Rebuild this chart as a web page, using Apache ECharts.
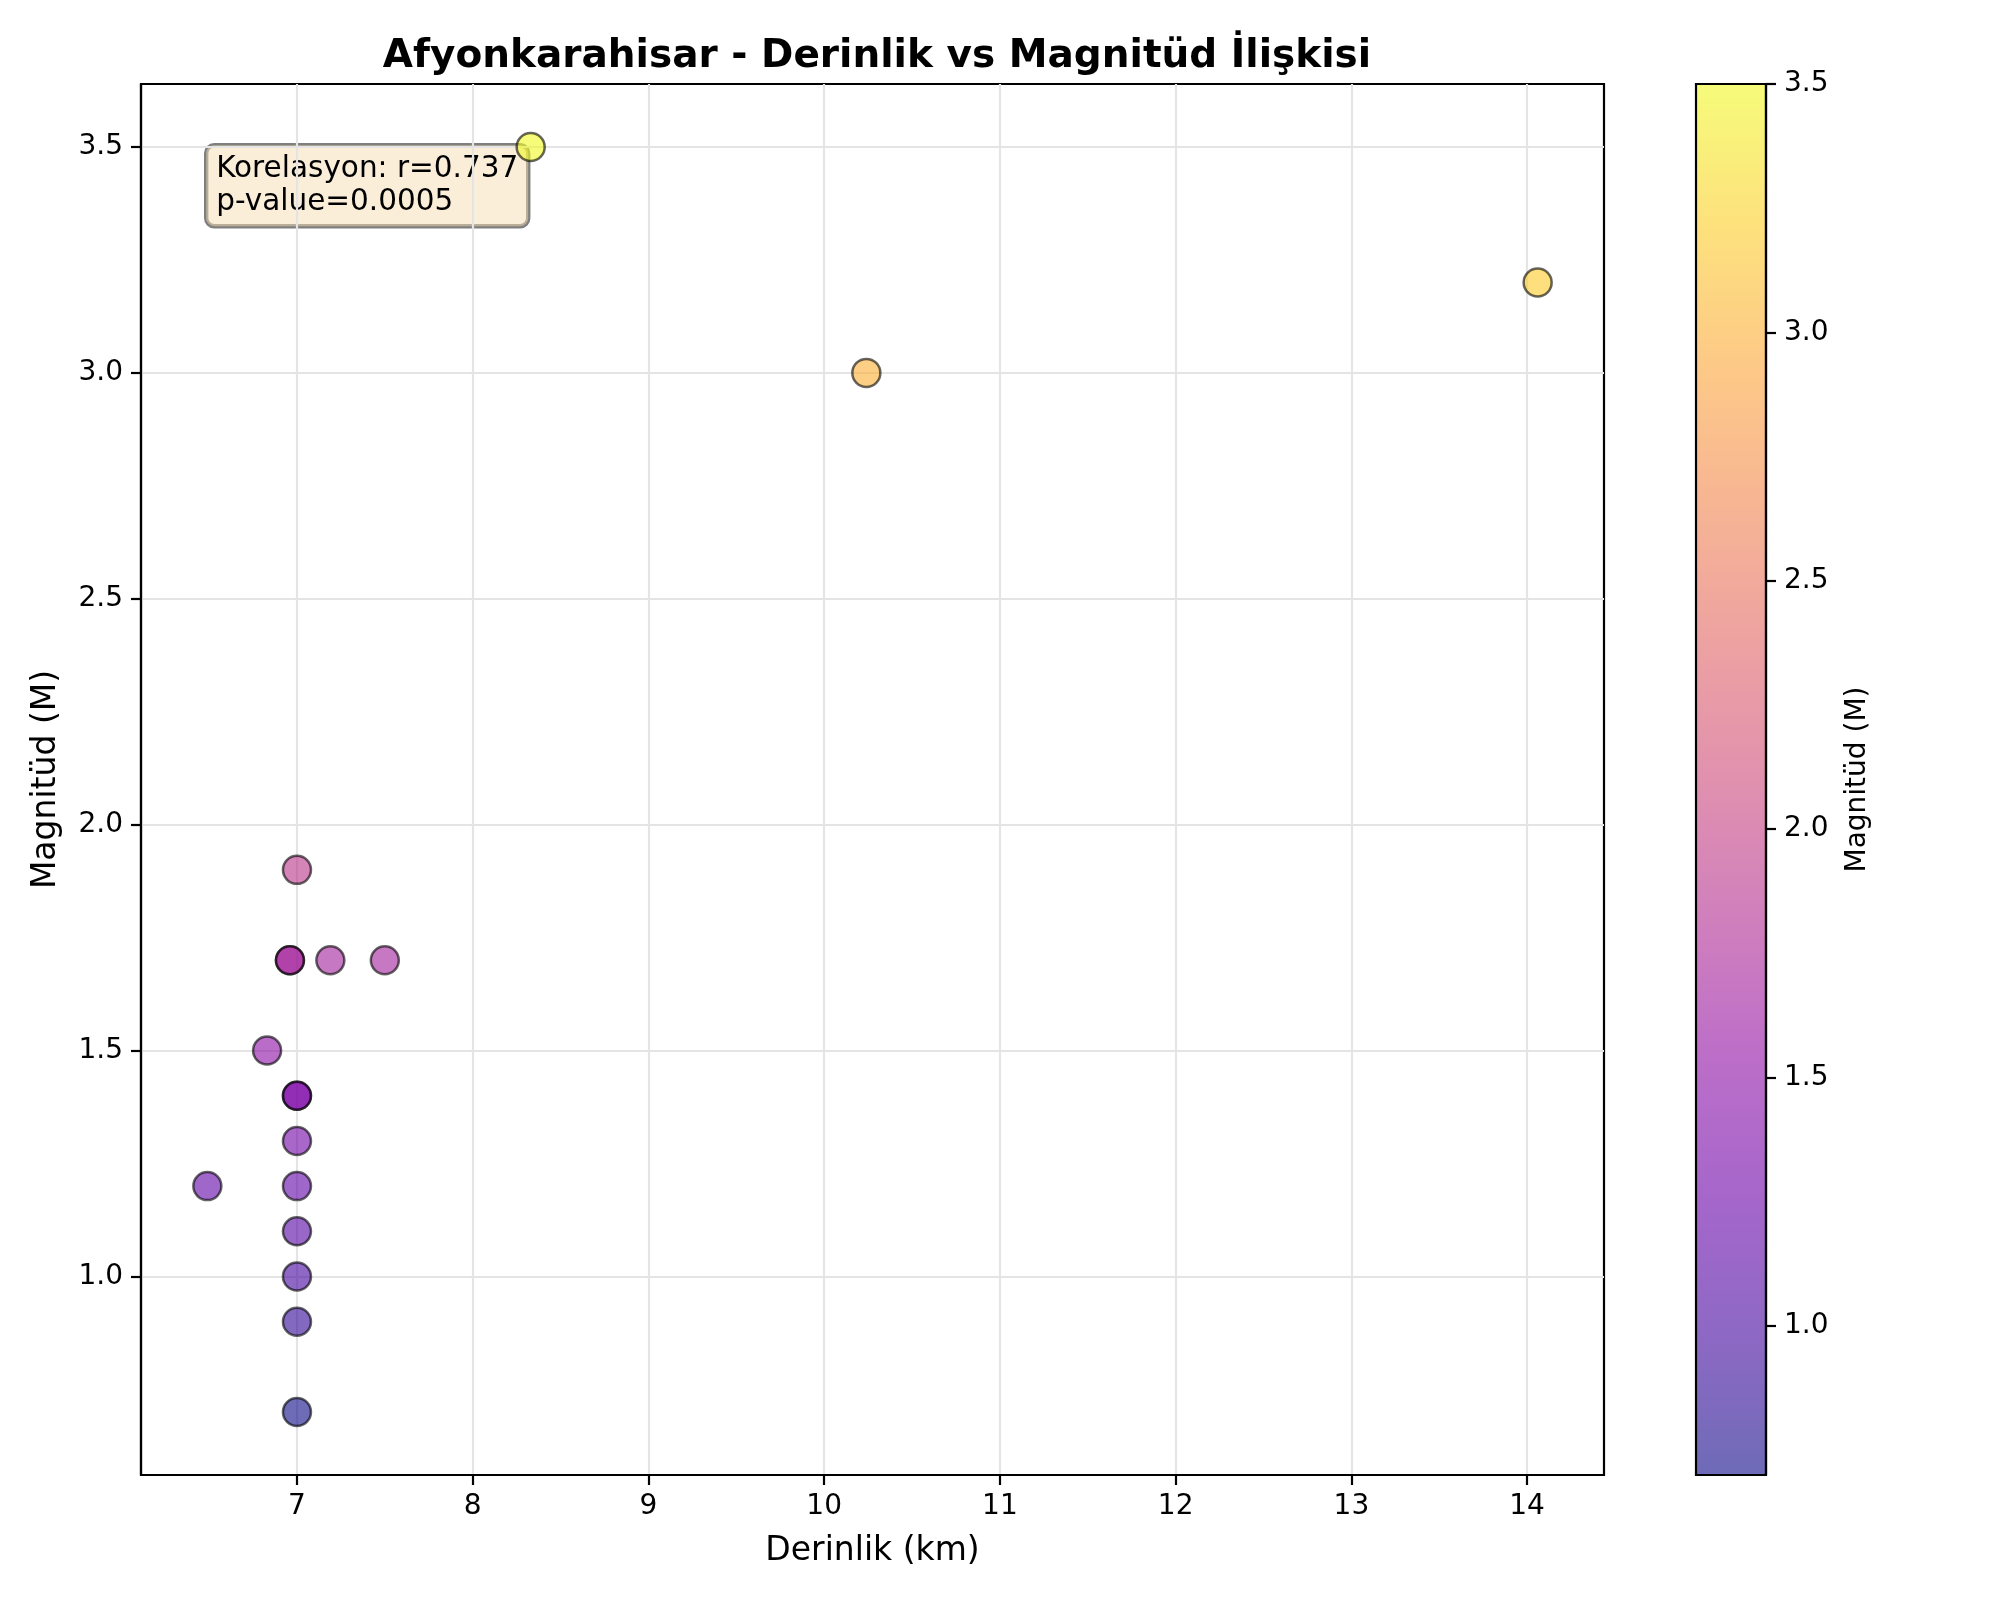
<!DOCTYPE html>
<html>
<head>
<meta charset="utf-8">
<script src="https://cdn.jsdelivr.net/npm/echarts@6/dist/echarts.min.js"></script>
<style>
html,body{margin:0;padding:0;background:#fff;}
#chart{width:2000px;height:1600px;}
</style>
</head>
<body>
<div id="chart"></div>
<script>
// ---- data ----
const depthKm   = [8.33, 10.24, 14.06, 7.0, 6.96, 6.96, 7.19, 7.50, 6.83, 7.0, 7.0, 7.0, 6.49, 7.0, 7.0, 7.0, 7.0, 7.0];
const magnitude = [3.5,  3.0,   3.2,   1.9, 1.7,  1.7,  1.7,  1.7,  1.5,  1.4, 1.4, 1.3, 1.2,  1.2, 1.1, 1.0, 0.9, 0.7];
const xTicks  = [7, 8, 9, 10, 11, 12, 13, 14];
const yTicks  = [1.0, 1.5, 2.0, 2.5, 3.0, 3.5];
const cbTicks = [1.0, 1.5, 2.0, 2.5, 3.0, 3.5];
const titleText = 'Afyonkarahisar - Derinlik vs Magnitüd İlişkisi';
const xName = 'Derinlik (km)';
const yName = 'Magnitüd (M)';
const cbName = 'Magnitüd (M)';
const statsText = 'Korelasyon: r=0.737\np-value=0.0005';

// plasma colormap
const plasma = ['#0d0887','#41049d','#6a00a8','#8f0da4','#b12a90','#cc4778','#e16462','#f2844b','#fca636','#fcce25','#f0f921'];
function hexA(h, a){
  const r=parseInt(h.slice(1,3),16), g=parseInt(h.slice(3,5),16), b=parseInt(h.slice(5,7),16);
  return 'rgba('+r+','+g+','+b+','+a+')';
}

const points = depthKm.map((d, i) => [d, magnitude[i]]);
const FONT = 'DejaVu Sans';

const chart = echarts.init(document.getElementById('chart'), null, {renderer: 'canvas'});
const axisLineStyle = {color: '#000', width: 2.2};
chart.setOption({
  backgroundColor: '#fff',
  animation: false,
  title: {
    text: titleText,
    left: 872, top: 32,
    textAlign: 'center',
    textStyle: {fontFamily: FONT, fontSize: 39, fontWeight: 'bold', color: '#000'}
  },
  grid: [
    {left: 141, right: 396, top: 84, bottom: 125, show: true, borderColor: '#000', borderWidth: 2.2, backgroundColor: '#fff'},
    {left: 1696, right: 234, top: 84, bottom: 125, show: true, borderColor: '#000', borderWidth: 2.2,
     backgroundColor: {type: 'linear', x: 0, y: 1, x2: 0, y2: 0,
       colorStops: plasma.map((c, i) => ({offset: i / (plasma.length - 1), color: hexA(c, 0.6)}))}}
  ],
  xAxis: [
    {gridIndex: 0, type: 'value', min: 6.1125, max: 14.4375,
     name: xName, nameLocation: 'middle', nameGap: 60,
     nameTextStyle: {fontFamily: FONT, fontSize: 33, color: '#000'},
     axisLine: {show: true, onZero: false, lineStyle: axisLineStyle},
     axisTick: {show: true, length: 10, inside: false, lineStyle: {color: '#000', width: 2.2}, customValues: xTicks},
     axisLabel: {fontFamily: FONT, fontSize: 28, color: '#000', margin: 18, customValues: xTicks, formatter: v => String(v)},
     splitLine: {show: true, lineStyle: {color: '#e4e4e4', width: 2.2}}
    },
    {gridIndex: 1, type: 'value', min: 0, max: 1, show: false, axisLine: {onZero: false}}
  ],
  yAxis: [
    {gridIndex: 0, type: 'value', min: 0.5606, max: 3.6394,
     name: yName, nameLocation: 'middle', nameGap: 78, nameRotate: 90,
     nameTextStyle: {fontFamily: FONT, fontSize: 33, color: '#000'},
     axisLine: {show: true, onZero: false, lineStyle: axisLineStyle},
     axisTick: {show: true, length: 10, lineStyle: {color: '#000', width: 2.2}, customValues: yTicks},
     axisLabel: {fontFamily: FONT, fontSize: 28, color: '#000', margin: 18, customValues: yTicks, formatter: v => v.toFixed(1)},
     splitLine: {show: true, lineStyle: {color: '#e4e4e4', width: 2.2}}
    },
    {gridIndex: 1, type: 'value', min: 0.7, max: 3.5, position: 'right',
     name: cbName, nameLocation: 'middle', nameGap: 78, nameRotate: 90,
     nameTextStyle: {fontFamily: FONT, fontSize: 28, color: '#000'},
     axisLine: {show: true, onZero: false, lineStyle: axisLineStyle},
     axisTick: {show: true, length: 10, lineStyle: {color: '#000', width: 2.2}, customValues: cbTicks},
     axisLabel: {fontFamily: FONT, fontSize: 28, color: '#000', margin: 18, customValues: cbTicks, formatter: v => v.toFixed(1)},
     splitLine: {show: false}
    }
  ],
  visualMap: {
    show: false, type: 'continuous', dimension: 1, seriesIndex: 0,
    min: 0.7, max: 3.5,
    inRange: {color: plasma}
  },
  graphic: [{
    type: 'text', left: 204, top: 143, z: 0,
    style: {
      text: statsText, font: '29.5px "DejaVu Sans"', fill: '#000',
      lineHeight: 33.5,
      backgroundColor: 'rgba(245,222,179,0.5)',
      borderColor: 'rgba(0,0,0,0.5)', borderWidth: 2.2, borderRadius: 8,
      padding: [7, 10, 7, 10]
    }
  }],
  series: [{
    type: 'scatter', xAxisIndex: 0, yAxisIndex: 0,
    data: points, symbol: 'circle', symbolSize: 28,
    itemStyle: {opacity: 0.6, borderColor: '#000', borderWidth: 2.5},
    z: 3
  }]
});
</script>
</body>
</html>
